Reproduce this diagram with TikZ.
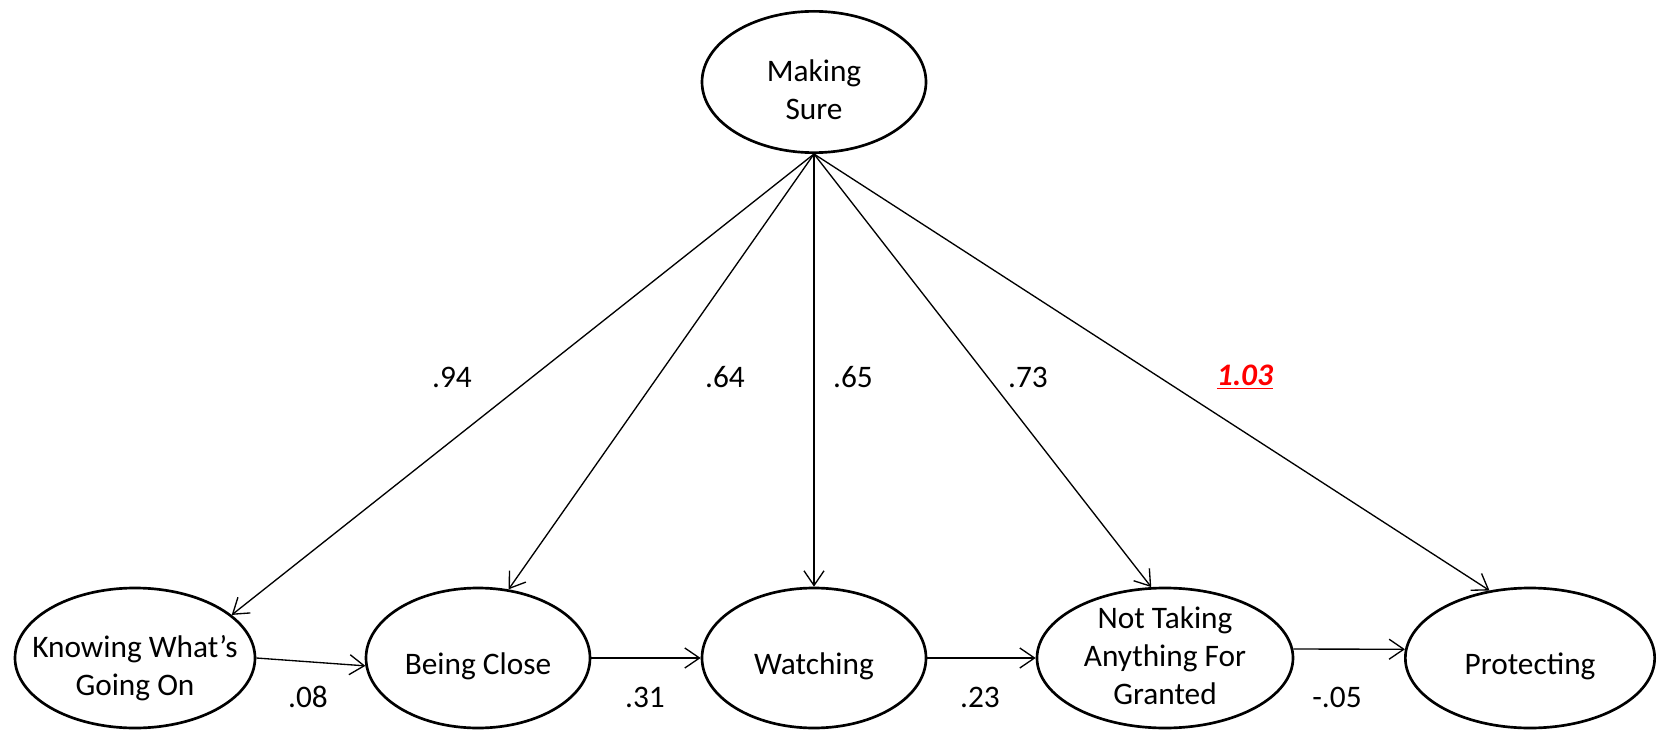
\documentclass[tikz,border=0pt]{standalone}
\usepackage{fontspec}
\setmainfont{Carlito}
\usepackage{tikz}
\usetikzlibrary{shapes.geometric,arrows.meta}
\definecolor{hilite}{RGB}{255,0,0}
\tikzset{every picture/.style={line width=0.75pt}}
\tikzset{
  factor/.style={ellipse, draw, line width=2pt, inner sep=0pt, minimum height=105pt},
  factortext/.style={align=center, inner sep=0pt, font=\fontsize{23.5}{28.5}\selectfont},
  loading/.style={line width=1pt, -{Straight Barb[length=11pt,width=15pt]}},
  coef/.style={inner sep=0pt, font=\fontsize{23.5}{28.5}\selectfont}
}

\begin{document}
\begin{tikzpicture}[x=0.75pt,y=0.75pt,yscale=-1,xscale=1]
\useasboundingbox (0,0) rectangle (1657,731);
%Shape: Ellipse [id:sure]
\node[factor, minimum width=168pt, minimum height=106pt] (sure) at (814,82) {};
%Shape: Ellipse [id:bottom row]
\node[factor, minimum width=180pt] (know) at (135,658) {};
\node[factor, minimum width=168pt] (close) at (478,658) {};
\node[factor, minimum width=168pt] (watch) at (814,658) {};
\node[factor, minimum width=192pt] (nottake) at (1165,658) {};
\node[factor, minimum width=187pt] (protect) at (1530,658) {};

\node[factortext] (suretxt) at (814,90) {Making\\Sure};
\node[factortext] (knowtxt) at (135,668) {Knowing What’s\\Going On};
\node[factortext] (closetxt) at (478,666) {Being Close};
\node[factortext] (watchtxt) at (814,666) {Watching};
\node[factortext] (nottaketxt) at (1165,656) {Not Taking\\Anything For\\Granted};
\node[factortext] (protecttxt) at (1530,666) {Protecting};

\draw [loading] (sure.south) -- (know.24) ;
\draw [loading] (sure.south) -- (close.66) ;
\draw [loading] (sure.south) -- (watch.north) ;
\draw [loading] (sure.south) -- (nottake.101) ;
\draw [loading] (sure.south) -- (protect.121) ;

\draw [loading] (know.east) -- (close.184) ;
\draw [loading] (close.east) -- (watch.west) ;
\draw [loading] (watch.east) -- (nottake.west) ;
\draw [loading] (nottake.4) -- (protect.176) ;

\node[coef] (c94) at (452,377) {.94};
\node[coef] (c64) at (725,377) {.64};
\node[coef] (c65) at (853,377) {.65};
\node[coef] (c73) at (1028,377) {.73};
\node[coef, text=hilite] (c103) at (1245,377) {\underline{\textbf{\textit{1.03}}}};
\node[coef] (c08) at (308,697) {.08};
\node[coef] (c31) at (645,697) {.31};
\node[coef] (c23) at (980,697) {.23};
\node[coef] (c05) at (1337,697) {-.05};
\end{tikzpicture}
\end{document}
